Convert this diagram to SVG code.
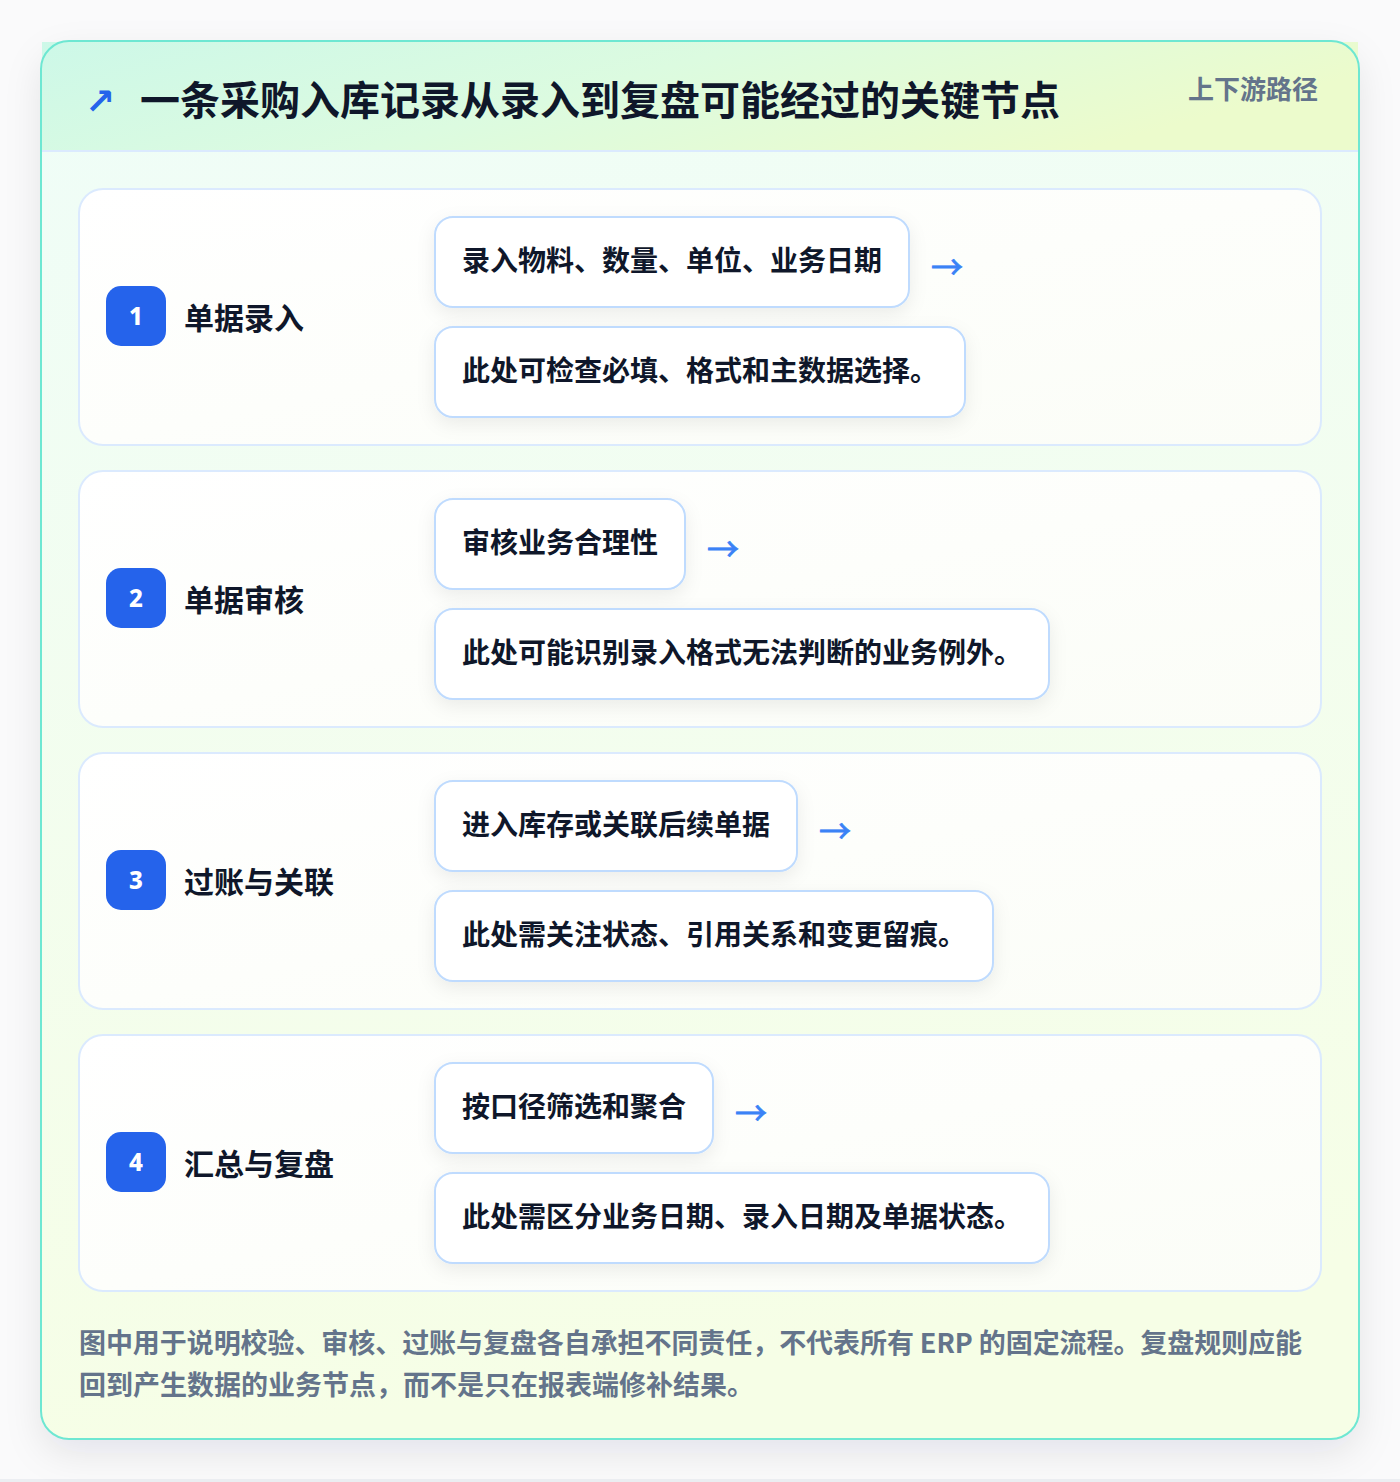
<svg xmlns="http://www.w3.org/2000/svg" width="1400" height="1482" viewBox="0 0 1400 1482">
<defs>
<linearGradient id="hdr" x1="0" y1="0" x2="1" y2="0.3">
<stop offset="0" stop-color="#cdf8e8"/>
<stop offset="0.5" stop-color="#dcfbe0"/>
<stop offset="1" stop-color="#ecfbcc"/>
</linearGradient>
<linearGradient id="body" x1="0" y1="0" x2="0.15" y2="1">
<stop offset="0" stop-color="#effdf8"/>
<stop offset="1" stop-color="#f6fee6"/>
</linearGradient>
<linearGradient id="card" x1="0" y1="0" x2="1" y2="1">
<stop offset="0" stop-color="#ffffff"/>
<stop offset="1" stop-color="#fbfdf7"/>
</linearGradient>
<filter id="panelShadow" x="-10%" y="-10%" width="120%" height="120%">
<feDropShadow dx="0" dy="14" stdDeviation="18" flood-color="#0f172a" flood-opacity="0.09"/>
</filter>
<filter id="boxShadow" x="-10%" y="-30%" width="120%" height="160%">
<feDropShadow dx="0" dy="6" stdDeviation="9" flood-color="#0f172a" flood-opacity="0.07"/>
</filter>
</defs>
<style>
.cjk{font-family:"Noto Sans CJK SC","Noto Sans",sans-serif;font-weight:700}
.title{font-size:40px;fill:#0f172a}
.tag{font-size:26px;fill:#64748b}
.card{fill:url(#card);stroke:#dbeafe;stroke-width:2}
.badge{fill:#2563eb}
.num{font-family:"Noto Sans","DejaVu Sans",sans-serif;font-weight:800;font-size:24px;fill:#ffffff}
.label{font-size:30px;fill:#0f172a}
.box{fill:#ffffff;stroke:#bfdbfe;stroke-width:2}
.btxt{font-size:28px;fill:#0f172a}
.arr{font-family:"Noto Sans CJK SC","DejaVu Sans",sans-serif;font-size:32px;fill:#3b82f6;stroke:#3b82f6;stroke-width:0.8}
.foot{font-size:27px;fill:#64748b}
</style>
<rect x="0" y="0" width="1400" height="1482" fill="#fafafb"/>
<rect x="0" y="1479" width="1400" height="3" fill="#eceef2"/>
<rect x="41" y="41" width="1318" height="1398" rx="28" fill="url(#body)" filter="url(#panelShadow)"/>
<rect x="42" y="42" width="1316" height="109" fill="url(#hdr)"/>
<line x1="42" y1="151" x2="1358" y2="151" stroke="#dbeafe" stroke-width="2"/>
<rect x="41" y="41" width="1318" height="1398" rx="28" fill="none" stroke="#6ee7d2" stroke-width="2"/>
<g id="header">
<text x="85" y="114" font-family="'DejaVu Sans',sans-serif" font-size="36" font-weight="700" fill="#2563eb">↗</text>
<text class="cjk title" x="140" y="115">一条采购入库记录从录入到复盘可能经过的关键节点</text>
<text class="cjk tag" x="1318" y="99" text-anchor="end">上下游路径</text>
</g>
<g id="step1">
<rect class="card" x="79" y="189" width="1242" height="256" rx="24"/>
<rect class="badge" x="106" y="286" width="60" height="60" rx="15"/>
<text class="num" x="136" y="325" text-anchor="middle">1</text>
<text class="cjk label" x="184" y="329">单据录入</text>
<rect class="box" x="435" y="217" width="474" height="90" rx="18" filter="url(#boxShadow)"/>
<text class="cjk btxt" x="462" y="271">录入物料、数量、单位、业务日期</text>
<rect class="box" x="435" y="327" width="530" height="90" rx="18" filter="url(#boxShadow)"/>
<text class="cjk btxt" x="462" y="381">此处可检查必填、格式和主数据选择。</text>
</g>
<g id="step2">
<rect class="card" x="79" y="471" width="1242" height="256" rx="24"/>
<rect class="badge" x="106" y="568" width="60" height="60" rx="15"/>
<text class="num" x="136" y="607" text-anchor="middle">2</text>
<text class="cjk label" x="184" y="611">单据审核</text>
<rect class="box" x="435" y="499" width="250" height="90" rx="18" filter="url(#boxShadow)"/>
<text class="cjk btxt" x="462" y="553">审核业务合理性</text>
<rect class="box" x="435" y="609" width="614" height="90" rx="18" filter="url(#boxShadow)"/>
<text class="cjk btxt" x="462" y="663">此处可能识别录入格式无法判断的业务例外。</text>
</g>
<g id="step3">
<rect class="card" x="79" y="753" width="1242" height="256" rx="24"/>
<rect class="badge" x="106" y="850" width="60" height="60" rx="15"/>
<text class="num" x="136" y="889" text-anchor="middle">3</text>
<text class="cjk label" x="184" y="893">过账与关联</text>
<rect class="box" x="435" y="781" width="362" height="90" rx="18" filter="url(#boxShadow)"/>
<text class="cjk btxt" x="462" y="835">进入库存或关联后续单据</text>
<rect class="box" x="435" y="891" width="558" height="90" rx="18" filter="url(#boxShadow)"/>
<text class="cjk btxt" x="462" y="945">此处需关注状态、引用关系和变更留痕。</text>
</g>
<g id="step4">
<rect class="card" x="79" y="1035" width="1242" height="256" rx="24"/>
<rect class="badge" x="106" y="1132" width="60" height="60" rx="15"/>
<text class="num" x="136" y="1171" text-anchor="middle">4</text>
<text class="cjk label" x="184" y="1175">汇总与复盘</text>
<rect class="box" x="435" y="1063" width="278" height="90" rx="18" filter="url(#boxShadow)"/>
<text class="cjk btxt" x="462" y="1117">按口径筛选和聚合</text>
<rect class="box" x="435" y="1173" width="614" height="90" rx="18" filter="url(#boxShadow)"/>
<text class="cjk btxt" x="462" y="1227">此处需区分业务日期、录入日期及单据状态。</text>
</g>
<g id="connectors">
<text class="arr" x="931" y="279">→</text>
<text class="arr" x="707" y="561">→</text>
<text class="arr" x="819" y="843">→</text>
<text class="arr" x="735" y="1125">→</text>
</g>
<g id="footer">
<text class="cjk foot" x="79" y="1353" textLength="1223" lengthAdjust="spacing">图中用于说明校验、审核、过账与复盘各自承担不同责任，不代表所有 ERP 的固定流程。复盘规则应能</text>
<text class="cjk foot" x="79" y="1395">回到产生数据的业务节点，而不是只在报表端修补结果。</text>
</g>
</svg>
